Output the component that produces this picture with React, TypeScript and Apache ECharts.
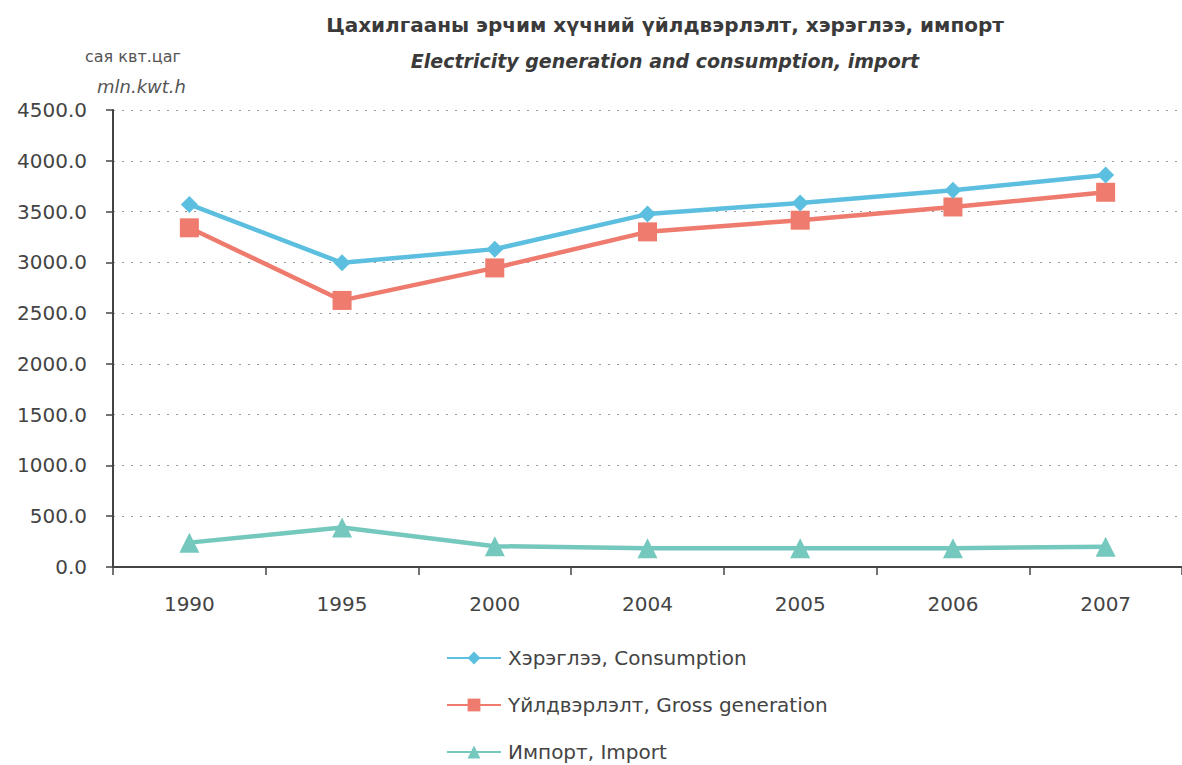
import React, { useEffect, useRef } from "react";
import * as echarts from "echarts";

const years = ["1990", "1995", "2000", "2004", "2005", "2006", "2007"];
const consumption = [3570, 2995, 3130, 3475, 3585, 3710, 3860];
const generation = [3340, 2625, 2945, 3300, 3415, 3545, 3690];
const imports = [240, 390, 205, 185, 185, 185, 200];
const seriesNames = [
  "Хэрэглээ, Consumption",
  "Үйлдвэрлэлт, Gross generation",
  "Импорт, Import",
];
const titleText = "Цахилгааны эрчим хүчний үйлдвэрлэлт, хэрэглээ, импорт";
const subtitleText = "Electricity generation and consumption, import";
const unitMn = "сая квт.цаг";
const unitEn = "mln.kwt.h";

const FONT = "DejaVu Sans, Liberation Sans, Arial, sans-serif";

export default function App() {
  const ref = useRef<HTMLDivElement>(null);
  useEffect(() => {
    if (!ref.current) return;
    const chart = echarts.init(ref.current, undefined, { renderer: "svg" });
    chart.setOption({
      animation: false,
      backgroundColor: "#ffffff",
      textStyle: { fontFamily: FONT },
      graphic: [
        {
          type: "text",
          x: 85,
          y: 48,
          style: { text: unitMn, font: `16px ${FONT}`, fill: "#555" },
        },
        {
          type: "text",
          x: 97,
          y: 77,
          style: { text: unitEn, font: `italic 18px ${FONT}`, fill: "#555" },
        },
      ],
      title: [
        {
          text: titleText,
          left: 660,
          top: 10,
          textAlign: "center",
          textStyle: { fontFamily: FONT, fontSize: 20, fontWeight: "bold", color: "#3a3a3a" },
        },
        {
          text: subtitleText,
          left: 660,
          top: 46,
          textAlign: "center",
          textStyle: {
            fontFamily: FONT,
            fontSize: 19,
            fontWeight: "bold",
            fontStyle: "italic",
            color: "#3a3a3a",
          },
        },
      ],
      legend: {
        orient: "vertical",
        left: 446,
        top: 648,
        height: 117,
        padding: 0,
        itemWidth: 54,
        itemHeight: 16,
        itemGap: 27,
        textStyle: { fontFamily: FONT, fontSize: 20, color: "#444", lineHeight: 20, padding: [0, 0, 0, 2] },
        data: seriesNames,
      },
      grid: { left: 113, top: 110, width: 1076, height: 457 },
      xAxis: {
        type: "category",
        data: years,
        boundaryGap: true,
        axisLine: { lineStyle: { color: "#444", width: 2 } },
        axisTick: { show: true, length: 8, lineStyle: { color: "#444", width: 1.5 } },
        axisLabel: { fontFamily: FONT, fontSize: 20, color: "#444", margin: 27 },
      },
      yAxis: {
        type: "value",
        min: 0,
        max: 4500,
        interval: 500,
        axisLine: { show: true, lineStyle: { color: "#444", width: 2 } },
        axisTick: { show: true, length: 7, lineStyle: { color: "#444", width: 1.5 } },
        axisLabel: {
          fontFamily: FONT,
          fontSize: 20,
          color: "#444",
          margin: 26,
          formatter: (v: number) => v.toFixed(1),
        },
        splitLine: { lineStyle: { color: "#999", type: [2, 7], width: 1 } },
      },
      series: [
        {
          name: seriesNames[0],
          type: "line",
          data: consumption,
          symbol: "diamond",
          symbolSize: 17,
          lineStyle: { color: "#5cbfdf", width: 4.5 },
          itemStyle: { color: "#5cbfdf" },
          z: 3,
        },
        {
          name: seriesNames[1],
          type: "line",
          data: generation,
          symbol: "rect",
          symbolSize: 19,
          lineStyle: { color: "#ee7b6d", width: 4.5 },
          itemStyle: { color: "#ee7b6d" },
          z: 2,
        },
        {
          name: seriesNames[2],
          type: "line",
          data: imports,
          symbol: "triangle",
          symbolSize: 20,
          lineStyle: { color: "#75c8bd", width: 4.5 },
          itemStyle: { color: "#75c8bd" },
          z: 2,
        },
      ],
    });
    return () => chart.dispose();
  }, []);
  return <div ref={ref} style={{ width: 1182, height: 765, position: "absolute", left: 0, top: 0 }} />;
}
